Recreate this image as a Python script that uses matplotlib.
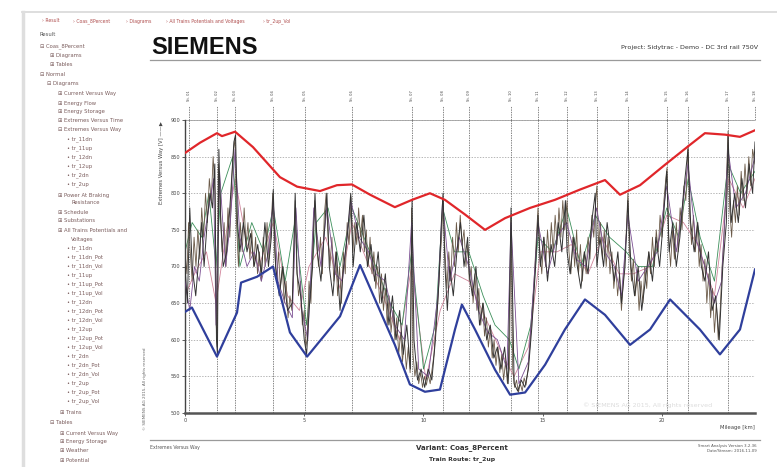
import matplotlib
matplotlib.use("Agg")
import matplotlib.pyplot as plt
from matplotlib.lines import Line2D

W, H = 777, 467

# ---------------- data ----------------
stations_km = [0.17, 1.34, 2.10, 3.69, 5.03, 7.0, 9.51, 10.82, 11.91, 13.67,
               14.80, 16.02, 17.27, 18.57, 20.21, 21.09, 22.77, 23.9]
station_names = ["St. 01", "St. 02", "St. 03", "St. 04", "St. 05", "St. 06",
                 "St. 07", "St. 08", "St. 09", "St. 10", "St. 11", "St. 12",
                 "St. 13", "St. 14", "St. 15", "St. 16", "St. 17", "St. 18"]

max_km = [0.0, 0.63, 1.34, 1.55, 2.10, 2.85, 3.98, 4.70, 5.66, 6.37, 7.0, 7.76,
          8.8, 9.52, 10.27, 10.9, 11.74, 12.58, 13.42, 14.47, 15.51, 16.56,
          17.61, 18.24, 19.08, 20.13, 21.17, 21.8, 22.64, 23.27, 23.9]
max_v = [855, 869, 882, 878, 884, 863, 822, 809, 803, 811, 812, 798,
         781, 791, 800, 791, 771, 750, 766, 780, 791, 805,
         818, 798, 811, 839, 866, 882, 880, 877, 886]

min_km = [0.0, 0.29, 1.34, 2.18, 2.35, 3.02, 3.69, 4.4, 5.12, 5.95, 6.5, 7.34,
          7.97, 8.8, 9.43, 10.06, 10.69, 11.32, 11.61, 12.16, 13.0, 13.63,
          14.26, 15.1, 15.93, 16.77, 17.61, 18.66, 19.5, 20.34, 21.59, 22.43,
          23.27, 23.9]
min_v = [638, 644, 577, 637, 678, 686, 700, 610, 577, 610, 632, 702,
         655, 593, 539, 529, 532, 614, 648, 614, 559, 525,
         528, 566, 614, 655, 634, 593, 614, 655, 614, 580,
         614, 696]

dark_km = [0.0, 0.1, 0.2, 0.3, 0.45, 0.6, 0.7, 0.8, 0.95, 1.05, 1.15, 1.25, 1.32, 1.36,
           1.42, 1.5, 1.6, 1.75, 1.9, 2.05, 2.12, 2.2, 2.3,
           2.45, 2.6, 2.75, 2.9, 3.05, 3.2, 3.35, 3.5, 3.62, 3.7, 3.8, 3.95, 4.1, 4.3,
           4.5, 4.62, 4.7, 4.85, 5.0, 5.1,
           5.2, 5.35, 5.45, 5.55, 5.7, 5.85, 5.95, 6.05, 6.2, 6.35, 6.5, 6.65, 6.8, 6.95, 7.05,
           7.2, 7.35, 7.5, 7.65, 7.8, 7.95, 8.1, 8.25, 8.4, 8.55, 8.7, 8.85, 9.0, 9.15, 9.3,
           9.45, 9.52,
           9.6, 9.75, 9.9, 10.05, 10.2, 10.35, 10.5, 10.65, 10.75, 10.82,
           10.9, 11.0, 11.1, 11.25, 11.4, 11.55, 11.7, 11.85, 11.92,
           12.05, 12.2, 12.35, 12.5, 12.65, 12.8, 12.95, 13.1, 13.25, 13.4, 13.55, 13.67,
           13.8, 13.95, 14.1, 14.25, 14.4, 14.55, 14.7, 14.8,
           14.9, 15.05, 15.2, 15.35, 15.5, 15.65, 15.8, 15.95, 16.02,
           16.15, 16.3, 16.45, 16.6, 16.75, 16.9, 17.05, 17.2, 17.27,
           17.4, 17.55, 17.7, 17.85, 18.0, 18.15, 18.3, 18.45, 18.57,
           18.7, 18.85, 19.0, 19.15, 19.3, 19.45, 19.6, 19.75, 19.9, 20.05, 20.2,
           20.3, 20.45, 20.6, 20.75, 20.9, 21.09,
           21.2, 21.35, 21.5, 21.65, 21.8, 21.95, 22.1, 22.25, 22.4, 22.55, 22.7, 22.77,
           22.9, 23.05, 23.2, 23.35, 23.5, 23.65, 23.8, 23.9]
dark_v = [700, 650, 780, 700, 660, 720, 760, 700, 770, 800, 780, 840, 600, 580,
          860, 760, 700, 720, 790, 870, 880, 760, 720,
          760, 720, 745, 700, 730, 690, 760, 700, 740, 805, 700, 660, 700, 640,
          650, 800, 690, 660, 600, 580,
          640, 700, 800, 720, 680, 750, 800, 700, 660, 720, 640, 700, 740, 800, 700,
          760, 720, 770, 700, 730, 680, 720, 650, 690, 620, 660, 600, 640, 580, 620,
          560, 790,
          600, 545, 560, 535, 560, 545, 600, 680, 760, 800,
          700, 640, 700, 660, 720, 760, 700, 740, 690,
          660, 700, 620, 650, 600, 620, 575, 590, 560, 590, 540, 780,
          540, 530, 545, 535, 560, 620, 700, 770,
          700, 740, 680, 730, 700, 760, 720, 790, 720,
          690, 740, 700, 670, 720, 690, 760, 800, 700,
          740, 700, 760, 720, 680, 720, 650, 700, 790,
          700, 660, 700, 640, 680, 720, 680, 740, 700, 760, 830,
          720, 760, 700, 740, 800, 860,
          760, 720, 760, 700, 680, 720, 640, 660, 600, 700, 760, 880,
          760, 800, 760, 820, 780, 840, 800, 870]

brown_km = [0.0, 0.08, 0.15, 0.22, 0.3, 0.38, 0.46, 0.54, 0.62, 0.7, 0.78, 0.86, 0.94,
            1.02, 1.1, 1.18, 1.26, 1.31, 1.35, 1.4, 1.48, 1.56, 1.64, 1.72, 1.8, 1.88,
            1.96, 2.04, 2.1, 2.16, 2.24, 2.32, 2.4, 2.48, 2.56, 2.64, 2.72, 2.8, 2.88,
            2.96, 3.04, 3.12, 3.2, 3.28, 3.36, 3.44, 3.52, 3.6, 3.68, 3.76, 3.84, 3.92,
            4.0, 4.08, 4.16, 4.24, 4.32, 4.4, 4.48, 4.56, 4.62, 4.68, 4.76, 4.84, 4.92,
            5.0, 5.06, 5.12, 5.2, 5.28, 5.36, 5.44, 5.52, 5.6, 5.68, 5.76, 5.84, 5.92,
            6.0, 6.08, 6.16, 6.24, 6.32, 6.4, 6.48, 6.56, 6.64, 6.72, 6.8, 6.88, 6.96,
            7.04, 7.12, 7.2, 7.28, 7.36, 7.44, 7.52, 7.6, 7.68, 7.76, 7.84, 7.92, 8.0,
            8.08, 8.16, 8.24, 8.32, 8.4, 8.48, 8.56, 8.64, 8.72, 8.8, 8.88, 8.96, 9.04,
            9.12, 9.2, 9.28, 9.36, 9.44, 9.5, 9.56, 9.64, 9.72, 9.8, 9.88, 9.96, 10.04,
            10.12, 10.2, 10.28, 10.36, 10.44, 10.52, 10.6, 10.68, 10.76, 10.82, 10.9,
            10.98, 11.06, 11.14, 11.22, 11.3, 11.38, 11.46, 11.54, 11.62, 11.7, 11.78,
            11.86, 11.92, 12.0, 12.08, 12.16, 12.24, 12.32, 12.4, 12.48, 12.56, 12.64,
            12.72, 12.8, 12.88, 12.96, 13.04, 13.12, 13.2, 13.28, 13.36, 13.44, 13.52,
            13.6, 13.67, 13.74, 13.82, 13.9, 13.98, 14.06, 14.14, 14.22, 14.3, 14.38,
            14.46, 14.54, 14.62, 14.7, 14.8, 14.88, 14.96, 15.04, 15.12, 15.2, 15.28,
            15.36, 15.44, 15.52, 15.6, 15.68, 15.76, 15.84, 15.92, 16.02, 16.1, 16.18,
            16.26, 16.34, 16.42, 16.5, 16.58, 16.66, 16.74, 16.82, 16.9, 16.98, 17.06,
            17.14, 17.22, 17.27, 17.34, 17.42, 17.5, 17.58, 17.66, 17.74, 17.82, 17.9,
            17.98, 18.06, 18.14, 18.22, 18.3, 18.38, 18.46, 18.52, 18.57, 18.64, 18.72,
            18.8, 18.88, 18.96, 19.04, 19.12, 19.2, 19.28, 19.36, 19.44, 19.52, 19.6,
            19.68, 19.76, 19.84, 19.92, 20.0, 20.08, 20.16, 20.21, 20.28, 20.36, 20.44,
            20.52, 20.6, 20.68, 20.76, 20.84, 20.92, 21.0, 21.09, 21.16, 21.24, 21.32,
            21.4, 21.48, 21.56, 21.64, 21.72, 21.8, 21.88, 21.96, 22.04, 22.12, 22.2,
            22.28, 22.36, 22.44, 22.52, 22.6, 22.68, 22.77, 22.84, 22.92, 23.0, 23.08,
            23.16, 23.24, 23.32, 23.4, 23.48, 23.56, 23.64, 23.72, 23.8, 23.9]
brown_v = [720, 690, 760, 720, 680, 740, 700, 750, 710, 780, 740, 800, 760,
           820, 790, 850, 800, 620, 590, 840, 780, 720, 760, 700, 780, 740,
           820, 860, 875, 760, 700, 760, 720, 780, 730, 760, 710, 750, 700,
           740, 690, 720, 680, 740, 700, 760, 710, 750, 800, 720, 680, 720,
           670, 700, 650, 680, 630, 660, 640, 700, 790, 700, 660, 680, 620,
           640, 590, 600, 680, 650, 740, 790, 730, 700, 740, 690, 770, 800,
           740, 700, 740, 680, 720, 660, 700, 650, 720, 690, 760, 730, 795,
           720, 760, 730, 780, 740, 770, 720, 750, 700, 740, 690, 720, 670,
           700, 650, 690, 640, 670, 620, 660, 610, 640, 600, 630, 580, 610,
           570, 600, 560, 590, 555, 780, 580, 550, 570, 540, 555, 535, 550,
           538, 552, 540, 560, 580, 620, 650, 700, 740, 790, 720,
           670, 720, 680, 740, 700, 760, 720, 770, 730, 750, 700,
           730, 680, 700, 650, 690, 640, 670, 620, 650, 605, 630,
           590, 615, 575, 600, 565, 590, 555, 580, 545, 570, 540,
           560, 770, 560, 535, 545, 528, 540, 530, 548, 538, 560,
           590, 630, 670, 720, 780, 720, 690, 740, 700, 750, 710,
           760, 720, 770, 730, 780, 740, 790, 750, 790, 720, 690,
           740, 700, 750, 690, 730, 680, 720, 690, 740, 710, 770,
           740, 790, 810, 730, 760, 710, 750, 700, 740, 690, 720,
           670, 700, 660, 690, 640, 680, 720, 760, 800, 720, 680,
           710, 660, 690, 640, 680, 650, 700, 670, 720, 690, 740,
           700, 750, 720, 770, 740, 790, 820, 835, 740, 700, 750,
           710, 760, 720, 780, 750, 810, 790, 865, 770, 730, 770,
           720, 760, 700, 730, 680, 710, 650, 690, 630, 670, 610,
           650, 600, 640, 700, 740, 800, 885, 780, 740, 790, 760,
           810, 770, 830, 790, 840, 800, 850, 810, 860, 840]

purple_km = [0, 0.2, 0.4, 0.6, 0.8, 1.0, 1.2, 1.3, 1.45, 1.7, 1.9, 2.1, 2.3, 2.6, 2.9,
             3.2, 3.5, 3.7, 3.9, 4.2, 4.5, 4.65, 4.9, 5.15, 5.4, 5.7, 5.95, 6.3, 6.6,
             6.95, 7.3, 7.7, 8.0, 8.4, 8.8, 9.2, 9.5, 9.8, 10.2, 10.6, 10.8, 11.1, 11.5,
             11.9, 12.3, 12.7, 13.1, 13.5, 13.67, 14.0, 14.4, 14.8, 15.2, 15.6, 16.0,
             16.4, 16.8, 17.25, 17.6, 18.0, 18.3, 18.57, 19.0, 19.4, 19.8, 20.2, 20.6,
             21.09, 21.4, 21.8, 22.2, 22.5, 22.77, 23.1, 23.5, 23.9]
purple_v = [680, 640, 700, 680, 740, 780, 820, 620, 830, 700, 760, 860, 740, 700, 720,
            680, 720, 790, 680, 650, 630, 780, 640, 600, 780, 700, 780, 690, 680,
            790, 740, 720, 690, 680, 620, 600, 760, 560, 550, 660, 790, 680, 740,
            700, 640, 610, 600, 560, 760, 540, 570, 760, 690, 740, 760,
            710, 700, 780, 720, 700, 660, 770, 680, 700, 720, 810, 720,
            840, 740, 700, 650, 680, 860, 780, 800, 850]

green_km = [0, 0.3, 0.7, 1.0, 1.3, 1.5, 2.0, 2.3, 2.8, 3.3, 3.7, 4.2, 4.6, 5.1, 5.5,
            6.0, 6.5, 7.0, 7.5, 8.0, 8.6, 9.1, 9.5, 10.0, 10.5, 10.8, 11.3, 11.9,
            12.5, 13.0, 13.6, 14.0, 14.5, 14.8, 15.4, 16.0, 16.6, 17.2, 17.8, 18.5,
            19.0, 19.6, 20.2, 20.7, 21.1, 21.6, 22.2, 22.77, 23.3, 23.9]
green_v = [720, 760, 740, 800, 700, 800, 850, 700, 760, 720, 780, 680, 760, 620, 760,
           780, 700, 780, 740, 700, 650, 620, 720, 560, 620, 780, 720, 720,
           660, 620, 600, 560, 620, 740, 720, 780, 700, 770, 740, 720,
           700, 700, 780, 740, 820, 740, 680, 840, 800, 830]

pink_km = [0, 0.4, 0.9, 1.3, 1.7, 2.1, 2.6, 3.1, 3.7, 4.3, 4.8, 5.2, 5.9, 6.5, 7.0,
           7.6, 8.3, 9.0, 9.5, 10.1, 10.7, 11.3, 11.9, 12.6, 13.3, 13.8, 14.4, 14.9,
           15.6, 16.2, 16.9, 17.5, 18.2, 18.8, 19.5, 20.2, 20.9, 21.5, 22.2, 22.8,
           23.4, 23.9]
pink_v = [660, 690, 720, 650, 740, 820, 730, 700, 760, 660, 640, 700, 740, 670, 760,
          710, 660, 600, 700, 545, 640, 690, 680, 630, 580, 550, 590, 720,
          720, 730, 690, 740, 690, 690, 700, 770, 760, 730, 660, 820,
          780, 820]

y_ticks = [500, 550, 600, 650, 700, 750, 800, 850, 900]
x_ticks = [0, 5, 10, 15, 20]

tree_items = [
    ("Result", 40, 34),
    ("\u229f Coas_8Percent", 40, 46),
    ("\u229e Diagrams", 50, 55),
    ("\u229e Tables", 50, 64),
    ("\u229f Normal", 40, 74),
    ("\u229f Diagrams", 47, 83),
    ("\u229e Current Versus Way", 58, 93),
    ("\u229e Energy Flow", 58, 103),
    ("\u229e Energy Storage", 58, 112),
    ("\u229e Extremes Versus Time", 58, 121),
    ("\u229f Extremes Versus Way", 58, 130),
    ("\u2022 tr_11dn", 67, 139),
    ("\u2022 tr_11up", 67, 148),
    ("\u2022 tr_12dn", 67, 157),
    ("\u2022 tr_12up", 67, 166),
    ("\u2022 tr_2dn", 67, 175),
    ("\u2022 tr_2up", 67, 184),
    ("\u229e Power At Braking", 58, 195),
    ("Resistance", 71, 203),
    ("\u229e Schedule", 58, 212),
    ("\u229e Substations", 58, 221),
    ("\u229e All Trains Potentials and", 58, 231),
    ("Voltages", 71, 240),
    ("\u2022 tr_11dn", 67, 248),
    ("\u2022 tr_11dn_Pot", 67, 257),
    ("\u2022 tr_11dn_Vol", 67, 266),
    ("\u2022 tr_11up", 67, 275),
    ("\u2022 tr_11up_Pot", 67, 284),
    ("\u2022 tr_11up_Vol", 67, 293),
    ("\u2022 tr_12dn", 67, 302),
    ("\u2022 tr_12dn_Pot", 67, 311),
    ("\u2022 tr_12dn_Vol", 67, 320),
    ("\u2022 tr_12up", 67, 329),
    ("\u2022 tr_12up_Pot", 67, 338),
    ("\u2022 tr_12up_Vol", 67, 347),
    ("\u2022 tr_2dn", 67, 356),
    ("\u2022 tr_2dn_Pot", 67, 365),
    ("\u2022 tr_2dn_Vol", 67, 374),
    ("\u2022 tr_2up", 67, 383),
    ("\u2022 tr_2up_Pot", 67, 392),
    ("\u2022 tr_2up_Vol", 67, 401),
    ("\u229e Trains", 60, 412),
    ("\u229f Tables", 50, 423),
    ("\u229e Current Versus Way", 60, 433),
    ("\u229e Energy Storage", 60, 442),
    ("\u229e Weather", 60, 451),
    ("\u229e Potential", 60, 460),
]
breadcrumb = [("\u203a Result", 42), ("\u203a Coas_8Percent", 73), ("\u203a Diagrams", 126),
              ("\u203a All Trains Potentials and Voltages", 166), ("\u203a tr_2up_Vol", 263)]

# ---------------- figure ----------------
fig = plt.figure(figsize=(W / 100, H / 100), dpi=100)
fig.patch.set_facecolor("white")


def fx(x):
    return x / W


def fy(y):
    return 1 - y / H


# window frame
fig.add_artist(Line2D([fx(22), fx(777)], [fy(12), fy(12)], color="#d8d8d8", lw=1.2))
fig.add_artist(Line2D([fx(23), fx(23)], [fy(12), fy(467)], color="#dedede", lw=2.5))

for txt, x in breadcrumb:
    fig.text(fx(x), fy(21), txt, fontsize=3.3, color="#b05050", va="center", ha="left")

for txt, x, y in tree_items:
    col = "#555555" if txt == "Result" else "#7a5c5c"
    fig.text(fx(x), fy(y), txt, fontsize=3.8, color=col, va="center", ha="left")

# header
fig.text(fx(151), fy(48), "SIEMENS", fontsize=17, fontweight="bold", color="#111111",
         va="center", ha="left", family="Liberation Sans")
fig.text(fx(758), fy(48), "Project: Sidytrac - Demo - DC 3rd rail 750V", fontsize=4.6,
         color="#333333", va="center", ha="right")
fig.add_artist(Line2D([fx(150), fx(760)], [fy(60), fy(60)], color="#9a9a9a", lw=0.9))

# main axes
L, R, T, B = 185, 755, 120, 413
ax = fig.add_axes([fx(L), fy(B), fx(R - L), (B - T) / H])
ax.set_xlim(0, 23.9)
ax.set_ylim(500, 900)

for yt in y_ticks:
    ax.axhline(yt, color="#9a9a9a", lw=0.5, ls=(0, (2, 2)), zorder=0)
ax.axhline(900, color="#a0a0a0", lw=1.2, zorder=1)

for s in stations_km:
    ax.axvline(s, color="#555555", lw=0.5, ls=(0, (2, 1.5)), zorder=1)
    ax.plot([s, s], [900, 900 + (120 - 106) / (B - T) * 400], color="#555555", lw=0.5,
            ls=(0, (2, 1.5)), clip_on=False)

ax.plot(pink_km, pink_v, color="#d0839a", lw=0.6, zorder=2)
ax.plot(green_km, green_v, color="#3c8f5a", lw=0.6, zorder=2)
ax.plot(brown_km, brown_v, color="#6b5a48", lw=0.6, zorder=2)
ax.plot(purple_km, purple_v, color="#7b4f92", lw=0.6, zorder=3)
ax.plot(dark_km, dark_v, color="#333333", lw=0.7, zorder=3)
ax.plot(max_km, max_v, color="#e0262a", lw=1.6, zorder=5)
ax.plot(min_km, min_v, color="#2f3f9c", lw=1.6, zorder=5)

for sp in ["top", "right"]:
    ax.spines[sp].set_visible(False)
ax.spines["left"].set_color("#444444")
ax.spines["left"].set_linewidth(1.0)
ax.spines["bottom"].set_color("#555555")
ax.spines["bottom"].set_linewidth(1.8)
ax.set_yticks(y_ticks)
ax.set_yticklabels([str(v) for v in y_ticks])
ax.set_xticks(x_ticks)
ax.set_xticklabels([str(v) for v in x_ticks])
ax.tick_params(axis="both", labelsize=3.6, colors="#444444", length=2.0, width=0.6, pad=1.5)
ax.set_facecolor("white")

# station labels above plot
for s, name in zip(stations_km, station_names):
    ax.text(s, 900 + (120 - 96) / (B - T) * 400, name, rotation=90, fontsize=2.6,
            color="#444444", ha="center", va="center", clip_on=False)

# axis labels
fig.text(fx(162), fy(121), "Extremes Versus Way [V] \u2014\u2014\u25b6", rotation=90,
         fontsize=3.8, color="#444444", ha="center", va="top")
fig.text(fx(755), fy(428), "Mileage [km]", fontsize=3.8, color="#444444", ha="right",
         va="center")
fig.text(fx(712), fy(405), "\u00a9 SIEMENS AG 2015, All rights reserved", fontsize=4.6,
         color="#dcdcdc", ha="right", va="center")
fig.text(fx(145), fy(430), "\u00a9 SIEMENS AG 2015, All rights reserved", rotation=90,
         fontsize=3.0, color="#666666", ha="center", va="bottom")

# footer
fig.add_artist(Line2D([fx(150), fx(760)], [fy(440), fy(440)], color="#9a9a9a", lw=0.9))
fig.text(fx(150), fy(447), "Extremes Versus Way", fontsize=3.3, color="#555555",
         ha="left", va="center")
fig.text(fx(462), fy(448), "Variant: Coas_8Percent", fontsize=5.0, fontweight="bold",
         color="#333333", ha="center", va="center")
fig.text(fx(462), fy(459), "Train Route: tr_2up", fontsize=4.4, fontweight="bold",
         color="#333333", ha="center", va="center")
fig.text(fx(757), fy(446), "Smart Analysis Version 3.2.36", fontsize=2.8, color="#555555",
         ha="right", va="center")
fig.text(fx(757), fy(451), "Date/Stream: 2016-11-09", fontsize=2.8, color="#555555",
         ha="right", va="center")

fig.savefig("out.png", dpi=100, facecolor="white")
